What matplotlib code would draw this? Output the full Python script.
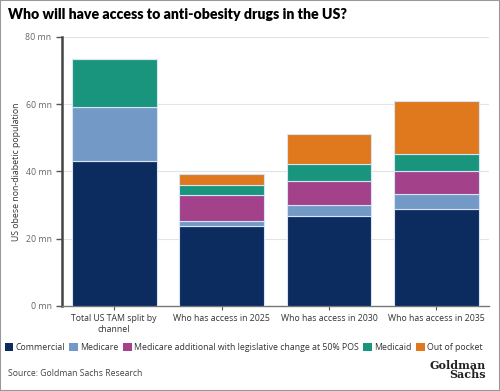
import numpy as np
import matplotlib.pyplot as plt
from matplotlib.patches import Patch, Rectangle

categories = ["Total US TAM split by\nchannel", "Who has access in 2025",
              "Who has access in 2030", "Who has access in 2035"]
series = ["Commercial", "Medicare",
          "Medicare additional with legislative change at 50% POS",
          "Medicaid", "Out of pocket"]
commercial = [43.1, 23.7, 26.9, 28.9]
medicare = [16.2, 1.6, 3.1, 4.4]
medicare_add = [0.0, 7.6, 7.3, 6.9]
medicaid = [14.2, 3.0, 4.9, 4.9]
out_of_pocket = [0.0, 3.3, 9.0, 15.9]
colors = ["#0c2b5e", "#7399c6", "#a3428a", "#18957c", "#e0781e"]

values = [commercial, medicare, medicare_add, medicaid, out_of_pocket]

plt.rcParams['font.family'] = ['Open Sans', 'DejaVu Sans']

fig = plt.figure(figsize=(5, 3.91), dpi=100)
ax = fig.add_axes([0.124, 0.2174, 0.854, 0.688])

x = np.arange(len(categories))
bottom = np.zeros(len(categories))
for name, vals, c in zip(series, values, colors):
    vals = np.array(vals)
    ax.bar(x, vals, 0.79, bottom=bottom, color=c, edgecolor="#d6e4f5",
           linewidth=0.8, label=name, zorder=3)
    bottom += vals

ax.set_xlim(-0.485, 3.49)
ax.set_ylim(0, 80)
ax.set_yticks([0, 20, 40, 60, 80])
ax.set_yticklabels(["0 mn", "20 mn", "40 mn", "60 mn", "80 mn"])
ax.set_xticks(x)
ax.set_xticklabels(categories, fontsize=6.3, color="#333333")
ax.tick_params(axis="y", labelsize=6.3, labelcolor="#666666", length=4,
               color="#555555", width=1)
ax.tick_params(axis="x", length=3, color="#555555", pad=3)
ax.grid(axis="y", color="#e3e3e3", linewidth=0.8, zorder=0)
for s in ["top", "right"]:
    ax.spines[s].set_visible(False)
ax.spines["left"].set_color("#444444")
ax.spines["left"].set_linewidth(1.8)
ax.spines["bottom"].set_color("#777777")
ax.spines["bottom"].set_linewidth(1.0)
ax.set_ylabel("US obese non-diabetic population", fontsize=6.3,
              color="#333333", labelpad=3)

fig.text(0.016, 0.962, "Who will have access to anti-obesity drugs in the US?",
         fontsize=10.2, fontweight="heavy", family="Lato", va="center")

handles = [Patch(facecolor=c, edgecolor="none") for c in colors]
fig.legend(handles, series, loc="center left", bbox_to_anchor=(0.004, 0.112),
           ncol=5, frameon=False, fontsize=6.3, handlelength=1.0,
           handleheight=1.0, handletextpad=0.25, columnspacing=0.5,
           borderaxespad=0, borderpad=0.3, labelcolor="#333333")

fig.text(0.016, 0.045, "Source: Goldman Sachs Research", fontsize=6.2,
         color="#444444", va="center")
fig.text(0.972, 0.053, "Goldman\nSachs", fontsize=8, fontweight="bold",
         family="DejaVu Serif", ha="right", va="center", linespacing=0.8,
         color="#222222")

fig.patches.append(Rectangle((0, 0), 1, 1, transform=fig.transFigure,
                             fill=False, edgecolor="#999999", linewidth=1.5))

fig.savefig("out.png", dpi=100)
